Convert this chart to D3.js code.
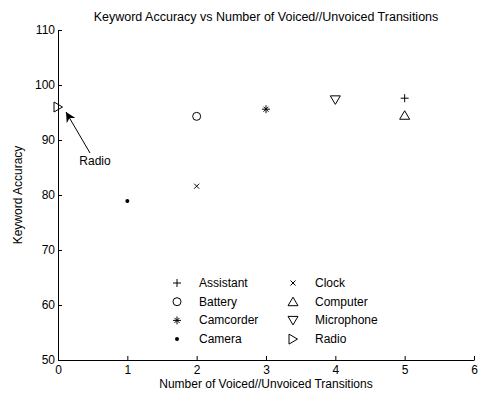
<!DOCTYPE html>
<html>
<head>
<meta charset="utf-8">
<script src="https://cdn.jsdelivr.net/npm/d3@7.9.0/dist/d3.min.js"></script>
<style>
  body { margin: 0; background: #fff; }
  svg { font-family: "Liberation Sans", Arial, sans-serif; }
  .axis path, .axis line { stroke: #000; }
  .axis text { font-size: 12px; fill: #000; font-family: "Liberation Sans", Arial, sans-serif; }
</style>
</head>
<body>
<svg id="chart" width="484" height="394"></svg>
<script>
// keyword data: transitions vs accuracy
const keywords = ['Assistant', 'Battery', 'Camcorder', 'Camera', 'Clock', 'Computer', 'Microphone', 'Radio'];
const transitions = [5, 2, 3, 1, 2, 5, 4, 0];
const accuracy = [97.6, 94.3, 95.6, 78.9, 81.6, 94.5, 97.3, 96.0];
const markers = ['plus', 'circle', 'star', 'dot', 'x', 'up', 'down', 'right'];
const xTicks = [0, 1, 2, 3, 4, 5, 6];
const yTicks = [50, 60, 70, 80, 90, 100, 110];

const svg = d3.select('#chart');
const margin = { top: 30, right: 10, bottom: 34, left: 58 };
const width = 484, height = 394;

const x = d3.scaleLinear().domain([0, 6]).range([margin.left, width - margin.right]);
const y = d3.scaleLinear().domain([50, 110]).range([height - margin.bottom, margin.top]);

// axes (ticks point inward like matlab)
svg.append('g')
  .attr('class', 'axis')
  .attr('transform', `translate(0,${y(50)})`)
  .call(d3.axisBottom(x).tickValues(xTicks).tickFormat(d3.format('d'))
    .tickSizeInner(-4).tickSizeOuter(0).tickPadding(4))
  .call(g => g.selectAll('text').attr('dy', '0.85em'));

svg.append('g')
  .attr('class', 'axis')
  .attr('transform', `translate(${x(0)},0)`)
  .call(d3.axisLeft(y).tickValues(yTicks).tickFormat(d3.format('d'))
    .tickSizeInner(-4).tickSizeOuter(0).tickPadding(3));

// title and labels
svg.append('text')
  .attr('x', (x(0) + x(6)) / 2).attr('y', 21)
  .attr('text-anchor', 'middle').attr('font-size', 12.5)
  .text('Keyword Accuracy vs Number of Voiced//Unvoiced Transitions');

svg.append('text')
  .attr('x', (x(0) + x(6)) / 2).attr('y', 388)
  .attr('text-anchor', 'middle').attr('font-size', 12)
  .text('Number of Voiced//Unvoiced Transitions');

svg.append('text')
  .attr('transform', `translate(22,${(y(50) + y(110)) / 2}) rotate(-90)`)
  .attr('text-anchor', 'middle').attr('font-size', 12)
  .text('Keyword Accuracy');

// marker drawing
function drawMarker(g, type) {
  const s = 4;
  const stroke = { stroke: '#000', 'stroke-width': 1, fill: 'none' };
  const set = (el, attrs) => { Object.entries(attrs).forEach(([k, v]) => el.attr(k, v)); return el; };
  if (type === 'plus') {
    set(g.append('path').attr('d', `M${-s},0H${s}M0,${-s}V${s}`), stroke);
  } else if (type === 'circle') {
    set(g.append('circle').attr('r', 4), stroke);
  } else if (type === 'x') {
    const a = 2.5;
    set(g.append('path').attr('d', `M${-a},${-a}L${a},${a}M${-a},${a}L${a},${-a}`), stroke);
  } else if (type === 'star') {
    const a = 2.5;
    set(g.append('path').attr('d', `M${-s},0H${s}M0,${-s}V${s}M${-a},${-a}L${a},${a}M${-a},${a}L${a},${-a}`), stroke);
  } else if (type === 'dot') {
    g.append('circle').attr('r', 2).attr('fill', '#000');
  } else if (type === 'up') {
    set(g.append('path').attr('d', 'M0,-4.5L5,4L-5,4Z'), stroke);
  } else if (type === 'down') {
    set(g.append('path').attr('d', 'M0,4.5L5,-4L-5,-4Z'), stroke);
  } else if (type === 'right') {
    set(g.append('path').attr('d', 'M4.5,0L-4,5L-4,-5Z'), stroke);
  }
}

// points
keywords.forEach((k, i) => {
  const g = svg.append('g').attr('transform', `translate(${x(transitions[i])},${y(accuracy[i])})`);
  drawMarker(g, markers[i]);
});

// annotation arrow for Radio
const tip = [x(0) + 8, y(96) + 5];
const tail = [90, 153];
svg.append('defs').append('marker')
  .attr('id', 'arrow').attr('viewBox', '0 0 10 10')
  .attr('refX', 10).attr('refY', 5)
  .attr('markerWidth', 10).attr('markerHeight', 10)
  .attr('markerUnits', 'userSpaceOnUse')
  .attr('orient', 'auto')
  .append('path').attr('d', 'M0,0L10,5L0,10L3,5Z').attr('fill', '#000');
svg.append('line')
  .attr('x1', tail[0]).attr('y1', tail[1])
  .attr('x2', tip[0]).attr('y2', tip[1])
  .attr('stroke', '#000').attr('stroke-width', 1)
  .attr('marker-end', 'url(#arrow)');
svg.append('text')
  .attr('x', 95).attr('y', 165)
  .attr('text-anchor', 'middle').attr('font-size', 12)
  .text('Radio');

// legend, two columns of four
const legend = svg.append('g');
keywords.forEach((k, i) => {
  const col = Math.floor(i / 4), row = i % 4;
  const lx = 177 + col * 116, ly = 283 + row * 18.7;
  const g = legend.append('g').attr('transform', `translate(${lx},${ly})`);
  drawMarker(g, markers[i]);
  legend.append('text')
    .attr('x', lx + 22).attr('y', ly + 4)
    .attr('font-size', 12)
    .text(k);
});
</script>
</body>
</html>
